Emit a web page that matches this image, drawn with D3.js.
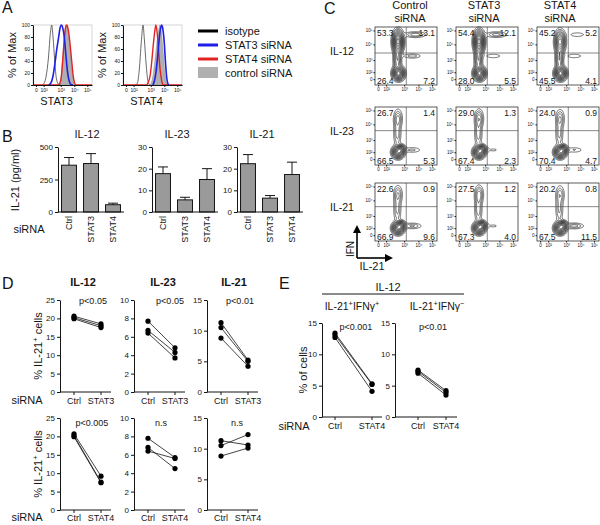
<!DOCTYPE html>
<html><head><meta charset="utf-8">
<script src="https://cdn.jsdelivr.net/npm/d3@7"></script>
<style>
body{margin:0;background:#fff}
svg text{font-family:"Liberation Sans",Arial,Helvetica,sans-serif}
</style></head>
<body><svg width="600" height="525"></svg>
<script>
// ================= DATA =================
// Panel A : histograms, points = [decade unit (0,10²,10³,10⁴,10⁵ -> 0..4), % of max]
const histTickLabels = ["0","10²","10³","10⁴","10⁵"];
const histTickUnits = [0,1,2,3,4];
const histPctTicks = [0,20,40,60,80,100];
const histMarkers = ["STAT3","STAT4"];
const legendLabels = ["isotype","STAT3 siRNA","STAT4 siRNA","control siRNA"];
const stat3Isotype = [[0.85,0],[1.0,2],[1.15,15],[1.28,45],[1.4,88],[1.47,100],[1.55,80],[1.65,40],[1.75,10],[1.88,1],[2.0,0]];
const stat3Stat3si = [[1.3,0],[1.42,3],[1.55,15],[1.67,38],[1.77,60],[1.87,78],[1.96,95],[2.05,100],[2.14,96],[2.26,80],[2.38,50],[2.5,22],[2.62,7],[2.75,1],[2.9,0]];
const stat3Stat4si = [[-0.3,0],[1.85,0],[1.95,3],[2.05,15],[2.15,42],[2.27,78],[2.37,97],[2.45,100],[2.55,93],[2.67,72],[2.8,42],[2.92,15],[3.02,4],[3.12,0],[4.35,0]];
const stat3Control = [[1.9,0],[2.0,8],[2.1,32],[2.22,68],[2.32,92],[2.4,100],[2.5,95],[2.62,75],[2.74,45],[2.86,18],[2.98,4],[3.08,0]];
const stat4Isotype = [[1.1,0],[1.22,3],[1.33,25],[1.45,72],[1.55,100],[1.63,75],[1.73,35],[1.84,6],[1.95,0]];
const stat4Stat3si = [[2.15,0],[2.25,5],[2.38,20],[2.52,50],[2.63,78],[2.74,96],[2.8,100],[2.88,95],[3.0,70],[3.1,35],[3.2,10],[3.32,0]];
const stat4Stat4si = [[-0.3,0],[1.75,0],[1.85,4],[1.96,15],[2.07,38],[2.18,65],[2.29,88],[2.38,100],[2.46,90],[2.57,60],[2.68,28],[2.8,8],[2.9,0],[4.35,0]];
const stat4Control = [[1.95,0],[2.06,5],[2.18,18],[2.33,45],[2.48,75],[2.59,92],[2.68,100],[2.77,90],[2.9,60],[3.02,25],[3.13,6],[3.24,0]];

// Panel B : IL-21 (pg/ml)
const bCategories = ["Ctrl","STAT3","STAT4"];
const bStimuli = ["IL-12","IL-23","IL-21"];
const bIL12Mean = [360,373,56];   const bIL12Sem = [59,76,12];
const bIL23Mean = [17.7,5.6,15.0]; const bIL23Sem = [3.1,1.2,5.0];
const bIL21Mean = [22.3,6.4,17.3]; const bIL21Sem = [4.2,1.2,5.7];
const bIL12Ticks = [0,250,500];
const bIL23Ticks = [0,10,20,30];
const bIL21Ticks = [0,10,20,30];

// Panel C : flow contour plots
const cColumns = [["Control","siRNA"],["STAT3","siRNA"],["STAT4","siRNA"]];
const cRows = ["IL-12","IL-23","IL-21"];
const cQuadIL12 = [[53.3,13.1,26.4,7.2],[54.4,12.1,28.0,5.5],[45.2,5.2,45.5,4.1]];
const cQuadIL23 = [[26.7,1.4,66.5,5.3],[29.0,1.3,67.4,2.3],[24.0,0.9,70.4,4.7]];
const cQuadIL21 = [[22.6,0.9,66.9,9.6],[27.5,1.2,67.3,4.0],[20.2,0.8,67.5,11.5]];
const cTickLabels = ["0","10²","10³","10⁴","10⁵"];
// populations: [IL-21 centre (decade unit), IFN centre (decade unit), spread IL-21, spread IFN (share of axis)]
const cBlobsIL12 = [[1.69,0.83,0.05,0.06],[1.62,2.07,0.035,0.12],[1.66,3.2,0.045,0.1],[2.78,3.7,0.1,0.03],[2.57,2.26,0.09,0.025]];
const cWeightsIL12 = [[1,0.3,1,0.15,0.1],[1,0.3,1,0.14,0.07],[1,0.3,0.65,0.06,0.07]];
const cBlobsIL2x = [[1.66,1.0,0.05,0.055],[1.83,1.24,0.04,0.04],[1.62,2.44,0.035,0.14],[1.66,3.42,0.04,0.09],[2.57,1.19,0.09,0.03]];
const cWeightsIL23 = [[1,0.6,0.17,0.21,0.1],[1,0.6,0.18,0.24,0.05],[1,0.6,0.16,0.19,0.09]];
const cWeightsIL21 = [[1,0.6,0.16,0.19,0.15],[1,0.6,0.18,0.23,0.05],[1,0.6,0.15,0.17,0.17]];
const cGateIFN = [2.45,2.6,2.6];
const cGateIL21 = 2.15;

// Panel D : % IL-21+ cells, paired donors
const dStimuli = ["IL-12","IL-23","IL-21"];
const dRow1Cats = ["Ctrl","STAT3"];
const dRow2Cats = ["Ctrl","STAT4"];
const dIL12CtrlA = [20.6,20.2,19.9]; const dIL12Stat3 = [18.5,18.0,17.5];
const dIL23CtrlA = [7.7,6.7,6.4];    const dIL23Stat3 = [4.8,4.3,3.7];
const dIL21CtrlA = [11.3,10.5,8.8];  const dIL21Stat3 = [5.2,5.0,4.2];
const dIL12CtrlB = [20.7,20.2,19.9]; const dIL12Stat4 = [9.2,7.6,7.4];
const dIL23CtrlB = [7.8,6.8,6.4];    const dIL23Stat4 = [5.7,4.5,5.6];
const dIL21CtrlB = [11.3,10.5,8.8];  const dIL21Stat4 = [10.6,12.3,10.1];
const dIL12Ticks = [0,5,10,15,20,25];
const dIL23Ticks = [0,2,4,6,8,10];
const dIL21Ticks = [0,5,10,15];
const dRow1P = ["p<0.05","p<0.05","p<0.01"];
const dRow2P = ["p<0.005","n.s","n.s"];

// Panel E : % of cells (IL-12)
const eCats = ["Ctrl","STAT4"];
const eDoublePosCtrl = [13.4,13.1,12.7]; const eDoublePosStat4 = [5.3,5.2,4.1];
const eIL21OnlyCtrl = [7.5,7.3,7.0];     const eIL21OnlyStat4 = [4.2,3.9,3.5];
const eTicks = [0,5,10,15];
const eP = ["p<0.001","p<0.01"];

// ================= DRAW =================
const svg = d3.select("svg");
const INK = "#151515";
function T(x,y,s,size,anchor,weight){
  return svg.append("text").attr("x",x).attr("y",y).attr("font-size",size||11)
    .attr("text-anchor",anchor||"middle").attr("font-weight",weight||"normal").attr("fill",INK).text(s);
}
function rich(x,y,parts,size,rot){
  const t = svg.append("text").attr("font-size",size).attr("text-anchor","middle").attr("fill",INK);
  if(rot) t.attr("transform",`translate(${x},${y}) rotate(-90)`); else t.attr("x",x).attr("y",y);
  let sh=0;
  parts.forEach(p=>{
    const sup=p.startsWith("^"); const s=sup?p.slice(1):p;
    const sp=t.append("tspan").text(s);
    if(sup){sp.attr("font-size",size*0.7).attr("dy",-size*0.4); sh=size*0.4;}
    else if(sh){sp.attr("dy",sh); sh=0;}
  });
  return t;
}
function styleAxis(g,size){
  g.attr("font-family",null);
  g.selectAll("text").attr("font-size",size).attr("fill",INK);
  g.selectAll("line").attr("stroke",INK);
  g.select(".domain").attr("stroke",INK).attr("stroke-width",1);
}

// panel letters
T(2,13,"A",16,"start"); T(2,142,"B",16,"start"); T(324,14,"C",16,"start");
T(2,289,"D",16,"start"); T(279,289,"E",16,"start");

// ---- Panel A ----
const frX=[0,0.05,0.18,0.47,0.70,0.92,1], uDomX=[-0.3,0,1,2,3,4,4.35];
const frY=[0,0.1,0.22,0.43,0.70,0.94,1], uDomY=[-0.4,0,1,2,3,4,4.25];
const uX=(x0,w)=>d3.scaleLinear().domain(uDomX).range(frX.map(f=>x0+f*w)).clamp(true);
const uY=(yb,h)=>d3.scaleLinear().domain(uDomY).range(frY.map(f=>yb-f*h)).clamp(true);

function histogram(x0,y0,w,h,iso,s3,s4,ctl,label){
  const x=uX(x0,w), y=d3.scaleLinear().domain([0,100]).range([y0+h,y0]);
  const g=svg.append("g");
  g.append("rect").attr("x",x0).attr("y",y0).attr("width",w).attr("height",h).attr("fill","none").attr("stroke","#bbb").attr("stroke-width",0.6);
  g.append("path").datum(ctl).attr("d",d3.area().x(d=>x(d[0])).y0(y(0)).y1(d=>y(d[1])).curve(d3.curveMonotoneX))
    .attr("fill","#b0b0b0").attr("stroke","#888").attr("stroke-width",0.5);
  const line=d3.line().x(d=>x(d[0])).y(d=>y(d[1])).curve(d3.curveMonotoneX);
  g.append("path").datum(iso).attr("d",line).attr("fill","none").attr("stroke","#444").attr("stroke-width",0.8);
  g.append("path").datum(s4).attr("d",line).attr("fill","none").attr("stroke","#e32222").attr("stroke-width",1.4);
  g.append("path").datum(s3).attr("d",line).attr("fill","none").attr("stroke","#1f1fe6").attr("stroke-width",1.6);
  const ay=g.append("g").attr("transform",`translate(${x0},0)`).call(d3.axisLeft(y).tickValues(histPctTicks).tickSize(2).tickPadding(1).tickSizeOuter(0));
  styleAxis(ay,5);
  const ax=g.append("g").attr("transform",`translate(0,${y0+h})`).call(d3.axisBottom(x).tickValues(histTickUnits).tickFormat((d,i)=>histTickLabels[i]).tickSize(2).tickPadding(1).tickSizeOuter(0));
  styleAxis(ax,5);
  T(x0+w*0.4,105,label,11);
  svg.append("text").attr("transform",`translate(${x0-17},${y0+h/2}) rotate(-90)`).attr("font-size",11).attr("text-anchor","middle").attr("fill",INK).text("% of Max");
}
histogram(33,25,59,60,stat3Isotype,stat3Stat3si,stat3Stat4si,stat3Control,histMarkers[0]);
histogram(123,25,59,60,stat4Isotype,stat4Stat3si,stat4Stat4si,stat4Control,histMarkers[1]);
const legColors=["#000","#1f1fe6","#e32222"];
legendLabels.forEach((l,i)=>{
  const yy=31+i*14;
  if(i<3) svg.append("line").attr("x1",198).attr("x2",218).attr("y1",yy).attr("y2",yy).attr("stroke",legColors[i]).attr("stroke-width",3);
  else svg.append("rect").attr("x",198).attr("y",yy-6).attr("width",20).attr("height",11).attr("fill","#b0b0b0");
  T(225,yy+4,l,11,"start");
});

// ---- Panel B ----
function barChart(x0,title,titleX,means,sems,ticks){
  const yTop=147,yBot=212;
  const x=d3.scaleBand().domain(bCategories).range([x0,x0+66]).paddingInner(0.32).paddingOuter(0.16);
  const y=d3.scaleLinear().domain([0,d3.max(ticks)]).range([yBot,yTop]);
  const g=svg.append("g");
  bCategories.forEach((c,i)=>{
    const cx=x(c)+x.bandwidth()/2;
    g.append("line").attr("x1",cx).attr("x2",cx).attr("y1",y(means[i])).attr("y2",y(means[i]+sems[i])).attr("stroke",INK).attr("stroke-width",1);
    g.append("line").attr("x1",cx-5).attr("x2",cx+5).attr("y1",y(means[i]+sems[i])).attr("y2",y(means[i]+sems[i])).attr("stroke",INK).attr("stroke-width",1);
    g.append("rect").attr("x",x(c)).attr("y",y(means[i])).attr("width",x.bandwidth()).attr("height",yBot-y(means[i]))
      .attr("fill","#9a9a9a").attr("stroke",INK).attr("stroke-width",1);
    svg.append("text").attr("transform",`translate(${cx+3},${yBot+4}) rotate(-90)`).attr("font-size",9).attr("text-anchor","end").attr("fill",INK).text(c);
  });
  const ay=g.append("g").attr("transform",`translate(${x0},0)`).call(d3.axisLeft(y).tickValues(ticks).tickSize(3).tickPadding(2).tickSizeOuter(0));
  styleAxis(ay,8);
  g.append("line").attr("x1",x0).attr("x2",x0+66).attr("y1",yBot).attr("y2",yBot).attr("stroke",INK).attr("stroke-width",1);
  T(titleX,138,title,11);
}
barChart(58,bStimuli[0],87,bIL12Mean,bIL12Sem,bIL12Ticks);
barChart(152,bStimuli[1],177,bIL23Mean,bIL23Sem,bIL23Ticks);
barChart(237,bStimuli[2],262,bIL21Mean,bIL21Sem,bIL21Ticks);
svg.append("text").attr("transform","translate(19,180) rotate(-90)").attr("font-size",11).attr("text-anchor","middle").attr("fill",INK).text("IL-21 (pg/ml)");
T(29,233,"siRNA",11);

// ---- Panel C ----
const cLefts=[375,456,537], cTops=[27,107,183], cW=62, cH=58;
const cHeadX=[410,484,560];
cColumns.forEach((c,i)=>{T(cHeadX[i],9,c[0],11); T(cHeadX[i],22,c[1],11);});
const cQuads=[cQuadIL12,cQuadIL23,cQuadIL21];
const cBlobs=[cBlobsIL12,cBlobsIL2x,cBlobsIL2x];
const cWeights=[cWeightsIL12,cWeightsIL23,cWeightsIL21];
const levels=[0.035,0.07,0.11,0.16,0.22,0.29,0.37,0.46,0.56,0.67,0.79,0.9];
const fxScale=d3.scaleLinear().domain(uDomX).range(frX), fyScale=d3.scaleLinear().domain(uDomY).range(frY);
cRows.forEach((r,ri)=>{
  T(342,cTops[ri]+cH/2-1,r,10.5);
  cLefts.forEach((x0,ci)=>{
    const y0=cTops[ri];
    const vals=new Float64Array(cW*cH);
    const bl=cBlobs[ri].map(b=>[fxScale(b[0]),fyScale(b[1]),b[2],b[3]]), wt=cWeights[ri][ci];
    for(let j=0;j<cH;j++)for(let i=0;i<cW;i++){
      const fx=(i+0.5)/cW, fy=1-(j+0.5)/cH; let s=0;
      bl.forEach((b,k)=>{const dx=(fx-b[0])/b[2], dy=(fy-b[1])/b[3]; s+=wt[k]*Math.exp(-0.5*(dx*dx+dy*dy));});
      vals[j*cW+i]=s;
    }
    const mx=d3.max(vals);
    const cs=d3.contours().size([cW,cH]).thresholds(levels.map(l=>l*mx))(vals);
    const g=svg.append("g").attr("transform",`translate(${x0},${y0})`);
    g.selectAll("path").data(cs).join("path").attr("d",d3.geoPath()).attr("fill","none").attr("stroke","#111").attr("stroke-width",0.6);
    const gx=uX(x0,cW)(cGateIL21), gy=uY(y0+cH,cH)(cGateIFN[ri]);
    svg.append("line").attr("x1",gx).attr("x2",gx).attr("y1",y0).attr("y2",y0+cH).attr("stroke","#555").attr("stroke-width",0.7);
    svg.append("line").attr("x1",x0).attr("x2",x0+cW).attr("y1",gy).attr("y2",gy).attr("stroke","#555").attr("stroke-width",0.7);
    svg.append("rect").attr("x",x0).attr("y",y0).attr("width",cW).attr("height",cH).attr("fill","none").attr("stroke","#333").attr("stroke-width",0.8);
    const q=cQuads[ri][ci];
    T(x0+2,y0+9,q[0].toFixed(1),8.5,"start");
    T(x0+cW-2,y0+9,q[1].toFixed(1),8.5,"end");
    T(x0+2,y0+cH-1.5,q[2].toFixed(1),8.5,"start");
    T(x0+cW-2,y0+cH-1.5,q[3].toFixed(1),8.5,"end");
    const ax=svg.append("g").attr("transform",`translate(0,${y0+cH})`).call(d3.axisBottom(uX(x0,cW)).tickValues(histTickUnits).tickFormat((d,i)=>cTickLabels[i]).tickSize(1.5).tickPadding(1).tickSizeOuter(0));
    styleAxis(ax,4.5); ax.select(".domain").remove();
    const ay=svg.append("g").attr("transform",`translate(${x0},0)`).call(d3.axisLeft(uY(y0+cH,cH)).tickValues(histTickUnits).tickFormat((d,i)=>cTickLabels[i]).tickSize(1.5).tickPadding(1).tickSizeOuter(0));
    styleAxis(ay,4.5); ay.select(".domain").remove();
  });
});
// axis arrows
svg.append("defs").append("marker").attr("id","arr").attr("viewBox","0 0 10 10").attr("refX",5).attr("refY",5)
  .attr("markerWidth",5).attr("markerHeight",5).attr("orient","auto").append("path").attr("d","M0,0L10,5L0,10z").attr("fill","#000");
svg.append("line").attr("x1",357).attr("y1",258).attr("x2",357).attr("y2",229).attr("stroke","#000").attr("stroke-width",1.6).attr("marker-end","url(#arr)");
svg.append("line").attr("x1",357).attr("y1",258).attr("x2",389).attr("y2",258).attr("stroke","#000").attr("stroke-width",1.6).attr("marker-end","url(#arr)");
svg.append("text").attr("transform","translate(354,249) rotate(-90)").attr("font-size",10).attr("text-anchor","middle").attr("fill",INK).text("IFN");
T(372,270,"IL-21",11);

// ---- Panel D & E pair plots ----
function pairPlot(x0,top,bot,ticks,cats,a,b,off,pText,pX,pY,lab){
  const y=d3.scaleLinear().domain([0,d3.max(ticks)]).range([bot,top]);
  const x=d3.scalePoint().domain(cats).range([x0+off[0],x0+off[1]]);
  const g=svg.append("g");
  const ay=g.append("g").attr("transform",`translate(${x0},0)`).call(d3.axisLeft(y).tickValues(ticks).tickSize(3).tickPadding(2).tickSizeOuter(0));
  styleAxis(ay,8);
  g.append("line").attr("x1",x0).attr("x2",x0+off[2]).attr("y1",bot).attr("y2",bot).attr("stroke",INK).attr("stroke-width",1);
  cats.forEach(c=>{
    g.append("line").attr("x1",x(c)).attr("x2",x(c)).attr("y1",bot).attr("y2",bot+3).attr("stroke",INK);
    T(x(c),bot+lab,c,9);
  });
  a.forEach((v,i)=>{
    g.append("line").attr("x1",x(cats[0])).attr("y1",y(v)).attr("x2",x(cats[1])).attr("y2",y(b[i])).attr("stroke",INK).attr("stroke-width",0.8);
  });
  a.forEach(v=>g.append("circle").attr("cx",x(cats[0])).attr("cy",y(v)).attr("r",2.6).attr("fill","#000"));
  b.forEach(v=>g.append("circle").attr("cx",x(cats[1])).attr("cy",y(v)).attr("r",2.6).attr("fill","#000"));
  T(pX,pY,pText,9);
}
const dAxX=[60,134,207], dOff=[14,41,51];
const dTitleX=[83,163,234];
dStimuli.forEach((s,i)=>T(dTitleX[i],286,s,11,"middle","bold"));
const dTicks=[dIL12Ticks,dIL23Ticks,dIL21Ticks];
const dA=[[dIL12CtrlA,dIL12Stat3],[dIL23CtrlA,dIL23Stat3],[dIL21CtrlA,dIL21Stat3]];
const dB=[[dIL12CtrlB,dIL12Stat4],[dIL23CtrlB,dIL23Stat4],[dIL21CtrlB,dIL21Stat4]];
const dPX1=[93,170,240], dPX2=[92,161,237];
dAxX.forEach((x0,i)=>{
  pairPlot(x0,300,392,dTicks[i],dRow1Cats,dA[i][0],dA[i][1],dOff,dRow1P[i],dPX1[i],304,12);
  pairPlot(x0,418,510,dTicks[i],dRow2Cats,dB[i][0],dB[i][1],dOff,dRow2P[i],dPX2[i],426,11);
});
rich(42,346,["% IL-21","^+"," cells"],11,true);
rich(42,464,["% IL-21","^+"," cells"],11,true);
T(27,404,"siRNA",11); T(27,521,"siRNA",11);

// Panel E
T(388,291,"IL-12",11);
svg.append("line").attr("x1",322).attr("x2",464).attr("y1",294).attr("y2",294).attr("stroke",INK).attr("stroke-width",1);
rich(352,310,["IL-21","^+","IFNγ","^+"],10.5,false);
rich(437,310,["IL-21","^+","IFNγ","^−"],10.5,false);
pairPlot(322,323,417,eTicks,eCats,eDoublePosCtrl,eDoublePosStat4,[13,50,60],eP[0],356,330,12);
pairPlot(395,323,417,eTicks,eCats,eIL21OnlyCtrl,eIL21OnlyStat4,[23,51,62],eP[1],433,330,12);
svg.append("text").attr("transform","translate(307,370) rotate(-90)").attr("font-size",11).attr("text-anchor","middle").attr("fill",INK).text("% of cells");
T(294,430,"siRNA",11);
</script></body></html>
